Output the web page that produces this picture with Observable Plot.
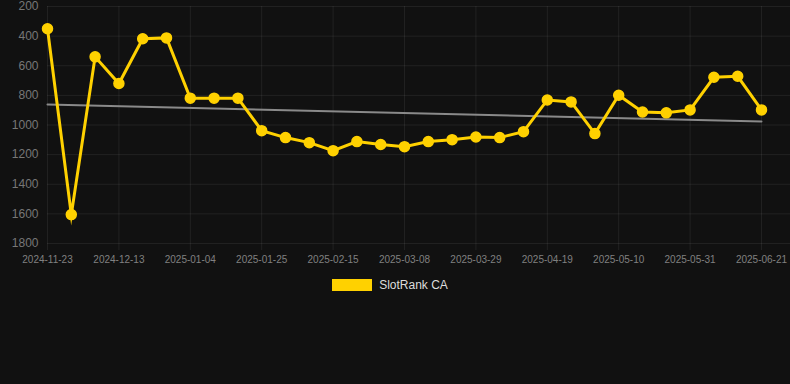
<!DOCTYPE html>
<html>
<head>
<meta charset="utf-8">
<script src="https://cdn.jsdelivr.net/npm/d3@7"></script>
<script src="https://cdn.jsdelivr.net/npm/@observablehq/plot@0.6"></script>
<style>
  html, body { margin: 0; padding: 0; background: #111111; }
  #wrap { position: relative; width: 790px; height: 384px; background: #111111; font-family: Arial, "Liberation Sans", sans-serif; }
  #legend { position: absolute; top: 278px; left: -5px; width: 790px; display: flex; justify-content: center; align-items: center; gap: 7px; color: #dddddd; font-size: 12px; }
  #legend .sw { width: 40px; height: 12px; background: #FFD100; }
</style>
</head>
<body>
<div id="wrap"><div id="chart"></div><div id="legend"><span class="sw"></span><span>SlotRank CA</span></div></div>
<script>
const dates = [
  "2024-11-23","2024-11-30","2024-12-06","2024-12-13","2024-12-20","2024-12-28",
  "2025-01-04","2025-01-11","2025-01-18","2025-01-25","2025-02-01","2025-02-08",
  "2025-02-15","2025-02-22","2025-03-01","2025-03-08","2025-03-15","2025-03-22",
  "2025-03-29","2025-04-05","2025-04-12","2025-04-19","2025-04-26","2025-05-03",
  "2025-05-10","2025-05-17","2025-05-24","2025-05-31","2025-06-07","2025-06-14",
  "2025-06-21"
];
const ranks = [
  350, 1605, 540, 720, 418, 412,
  819, 819, 819, 1038, 1085, 1119,
  1173, 1112, 1132, 1146, 1112, 1099,
  1081, 1085, 1045, 831, 844, 1058,
  799, 912, 918, 898, 678, 671,
  898
];
const trendDates = ["2024-11-23", "2025-06-21"];
const trendValues = [862, 977];
const yTicks = [200, 400, 600, 800, 1000, 1200, 1400, 1600, 1800];
const xTickLabels = dates.filter((d, i) => i % 3 === 0);

const idx = d => dates.indexOf(d);
const series = dates.map((d, i) => ({pos: i, rank: ranks[i]}));
const trend = trendDates.map((d, i) => ({pos: idx(d), rank: trendValues[i]}));
const xTickPos = xTickLabels.map(idx);

const chart = Plot.plot({
  width: 790,
  height: 270,
  marginTop: 6,
  marginBottom: 27,
  marginLeft: 47,
  marginRight: 0,
  style: {background: "#111111", fontFamily: "Arial, 'Liberation Sans', sans-serif"},
  x: {type: "linear", domain: [0, dates.length - 1], range: [47, 761], axis: null, label: null},
  y: {domain: [200, 1800], reverse: true, axis: null, label: null},
  marks: [
    Plot.ruleY(yTicks, {stroke: "#ffffff", strokeOpacity: 0.07, strokeWidth: 1}),
    Plot.ruleX(xTickPos, {x: d => d, y1: 200, y2: 1800, insetBottom: -7, stroke: "#ffffff", strokeOpacity: 0.07, strokeWidth: 1}),
    Plot.axisY({ticks: yTicks, tickSize: 0, tickPadding: 9, fontSize: 12, color: "#777777", anchor: "left", label: null, tickFormat: d => String(d)}),
    Plot.axisX({ticks: xTickPos, tickSize: 0, tickPadding: 12, fontSize: 10, color: "#808080", anchor: "bottom", label: null, tickFormat: i => dates[i]}),
    Plot.line(trend, {x: "pos", y: "rank", stroke: "#8a8a8a", strokeWidth: 2}),
    Plot.line(series, {x: "pos", y: "rank", stroke: "#FFD100", strokeWidth: 3, strokeLinejoin: "miter", strokeMiterlimit: 10, strokeLinecap: "butt"}),
    Plot.dot(series, {x: "pos", y: "rank", r: 5, fill: "#FFD100", stroke: "#FFD100"})
  ]
});
document.getElementById("chart").appendChild(chart);
</script>
</body>
</html>
